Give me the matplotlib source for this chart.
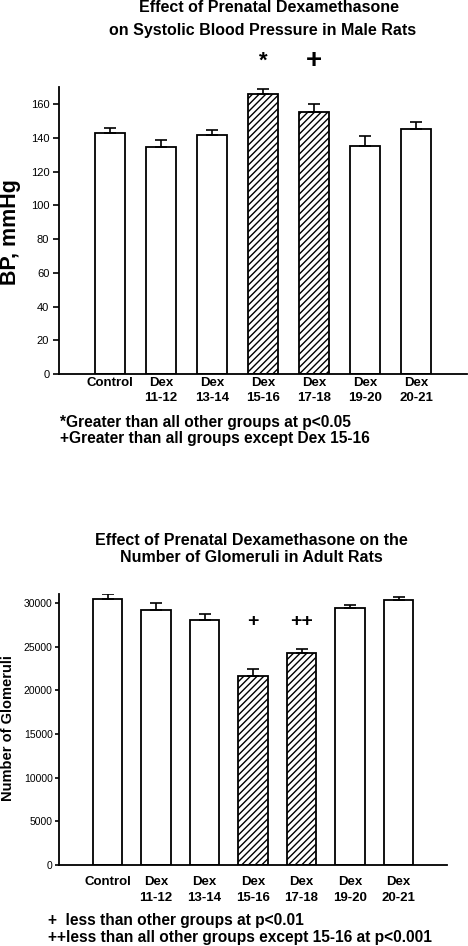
import matplotlib
matplotlib.use('Agg')
import matplotlib.pyplot as plt
import numpy as np

plt.rcParams['font.family'] = ['Liberation Sans', 'DejaVu Sans']
plt.rcParams['hatch.linewidth'] = 1.0
plt.rcParams['hatch.color'] = 'black'

# ---------------- data ----------------
groups = ['Control', 'Dex\n11-12', 'Dex\n13-14', 'Dex\n15-16', 'Dex\n17-18', 'Dex\n19-20', 'Dex\n20-21']
hatched = [False, False, False, True, True, False, False]

bp_mean = [143.0, 134.7, 141.4, 165.9, 155.5, 135.3, 145.2]
bp_sem = [3.0, 3.8, 3.2, 3.0, 4.5, 6.0, 3.9]
bp_ticks = [0, 20, 40, 60, 80, 100, 120, 140, 160]
bp_marks = {3: '*', 4: '+'}

glom_mean = [30460, 29200, 28020, 21640, 24280, 29390, 30380]
glom_sem = [600, 750, 750, 840, 420, 380, 340]
glom_ticks = [0, 5000, 10000, 15000, 20000, 25000, 30000]
glom_marks = {3: '+', 4: '++'}

W, H = 468, 946
fig = plt.figure(figsize=(W / 100, H / 100), dpi=100)


def px_axes(left, right, bottom, top):
    return fig.add_axes([left / W, 1 - bottom / H, (right - left) / W, (bottom - top) / H])


def draw(ax, means, sems, ticks, ymax, xpad, ytick_fs, ytick_len, ytick_pad):
    x = np.arange(len(groups))
    for xi, m, h in zip(x, means, hatched):
        ax.bar(xi, m, width=0.6, color='white', edgecolor='black', linewidth=1.3,
               hatch='/////' if h else None, zorder=2)
    ax.errorbar(x, means, yerr=[np.zeros(len(sems)), sems], fmt='none', ecolor='black',
                elinewidth=1.2, capsize=4, capthick=1.2, zorder=3)
    ax.set_xlim(-1, 7)
    ax.set_ylim(0, ymax)
    ax.set_yticks(ticks)
    ax.set_yticklabels([str(t) for t in ticks], fontsize=ytick_fs)
    ax.set_xticks(x)
    ax.set_xticklabels(groups, fontsize=9.5, fontweight='bold', linespacing=1.4)
    ax.tick_params(axis='x', length=0, pad=xpad)
    ax.tick_params(axis='y', length=ytick_len, width=1.2, pad=ytick_pad, direction='out')
    for s in ['top', 'right']:
        ax.spines[s].set_visible(False)
    for s in ['left', 'bottom']:
        ax.spines[s].set_linewidth(1.3)
    return x


# ---------------- top chart ----------------
ax1 = px_axes(59, 467, 374, 374 - 170 * 1.6875)
x = draw(ax1, bp_mean, bp_sem, bp_ticks, 170, 2, 8, 4, 3)
mark_sizes_top = {'*': 16, '+': 20}
for i, mk in bp_marks.items():
    ax1.text(x[i], 185.5, mk, ha='center', va='center', fontsize=mark_sizes_top[mk],
             fontweight='bold', clip_on=False)

fig.text(269 / W, 1 - 7.5 / H, 'Effect of Prenatal Dexamethasone', ha='center', va='center',
         fontsize=11.5, fontweight='bold')
fig.text(263 / W, 1 - 30 / H, 'on Systolic Blood Pressure in Male Rats', ha='center', va='center',
         fontsize=11.5, fontweight='bold')
fig.text(11 / W, 1 - 232 / H, 'BP, mmHg', rotation=90, ha='center', va='center',
         fontsize=15.5, fontweight='bold')
fig.text(60 / W, 1 - 422 / H, '*Greater than all other groups at p<0.05', ha='left', va='center',
         fontsize=11.2, fontweight='bold')
fig.text(60 / W, 1 - 438 / H, '+Greater than all groups except Dex 15-16', ha='left', va='center',
         fontsize=11.2, fontweight='bold')

# ---------------- bottom chart ----------------
ax2 = px_axes(59, 447, 865, 865 - 31000 * 0.008733)
x = draw(ax2, glom_mean, glom_sem, glom_ticks, 31000, 8, 7.5, 3, 1.5)
for i, mk in glom_marks.items():
    ax2.text(x[i], 27900, mk, ha='center', va='center', fontsize=14, fontweight='bold', clip_on=False)

fig.text(251 / W, 1 - 540 / H, 'Effect of Prenatal Dexamethasone on the', ha='center', va='center',
         fontsize=11.5, fontweight='bold')
fig.text(251 / W, 1 - 558 / H, 'Number of Glomeruli in Adult Rats', ha='center', va='center',
         fontsize=11.5, fontweight='bold')
fig.text(8 / W, 1 - 728 / H, 'Number of Glomeruli', rotation=90, ha='center', va='center',
         fontsize=10.5, fontweight='bold')
fig.text(48 / W, 1 - 920 / H, '+  less than other groups at p<0.01', ha='left', va='center',
         fontsize=11.2, fontweight='bold')
fig.text(48 / W, 1 - 937 / H, '++less than all other groups except 15-16 at p<0.001', ha='left',
         va='center', fontsize=11.2, fontweight='bold')

fig.savefig('out.png', dpi=100)
